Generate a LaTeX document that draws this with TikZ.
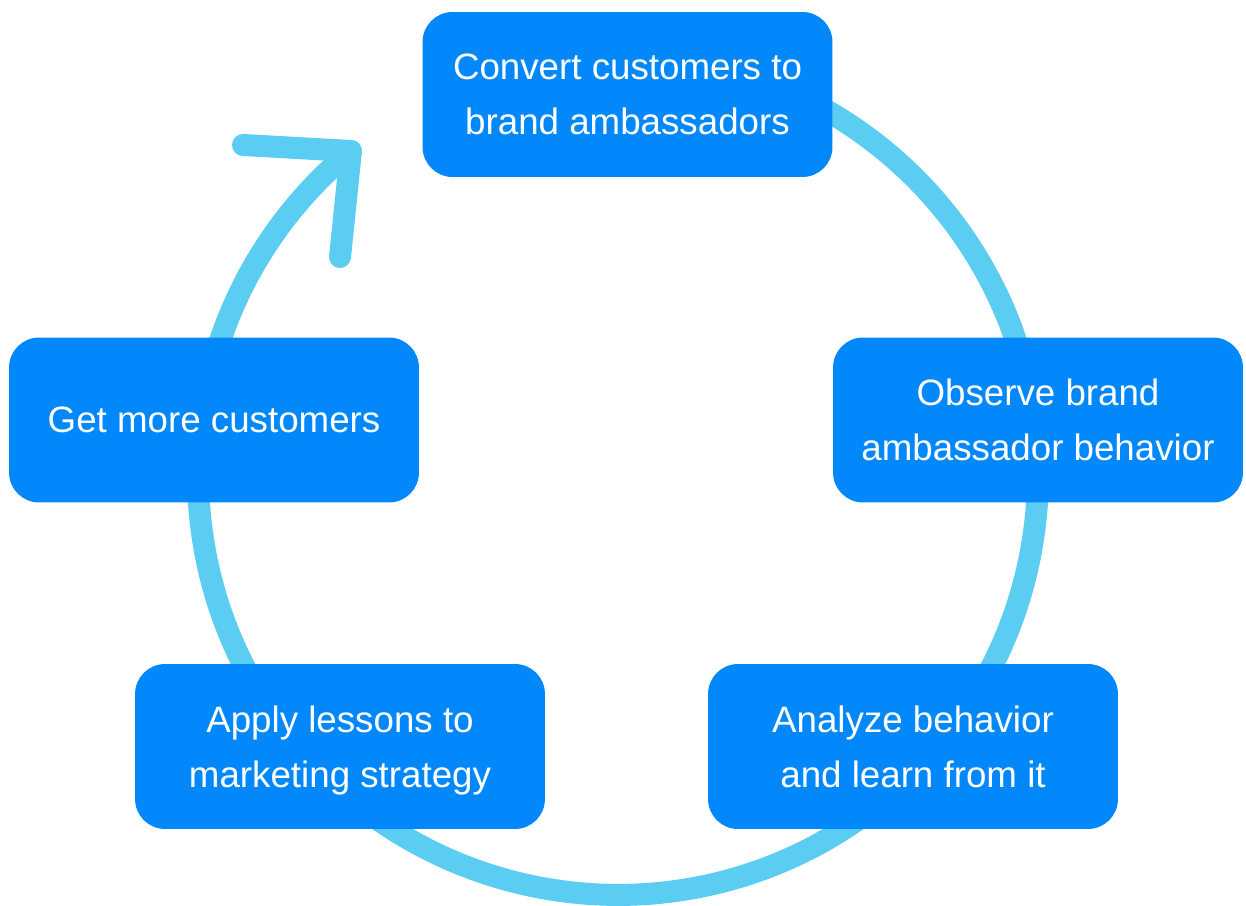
\documentclass[tikz,border=0pt]{standalone}
\usepackage{fontspec}
\setmainfont{Liberation Sans}
\usepackage{xcolor}
\usepackage{tikz}

\definecolor{boxblue}{HTML}{0388FC}
\definecolor{ringblue}{HTML}{5BCDF2}

\tikzset{
  stagebox/.style={fill=boxblue, text=white, rounded corners=0.6cm,
    minimum width=8.2cm, minimum height=3.3cm, inner sep=0pt, align=center,
    font=\fontsize{20.9}{31.3}\selectfont, text depth=0pt},
  ring/.style={draw=ringblue, line width=0.44cm, line cap=round, line join=round}
}

\begin{document}
\begin{tikzpicture}[x=0.02cm, y=-0.02cm]
                            \useasboundingbox (0,0) rectangle (1246,905);
                            \coordinate (hub) at (618,475);
                            \coordinate (armA) at (243,145);
                            \coordinate (armB) at (340,257);
                            \draw [ring] (hub) ++(129.5:8.4cm) coordinate (tip)
                              arc [start angle=129.5, end angle=440, radius=8.4cm];
                            \draw [ring] (armA) -- (tip) -- (armB);
                            \node (convert) [stagebox] at (627.5,94.5) {Convert customers to\\brand ambassadors};
                            \node (observe) [stagebox] at (1038,420) {Observe brand\\ambassador behavior};
                            \node (analyze) [stagebox] at (913,746.5) {Analyze behavior\\and learn from it};
                            \node (apply) [stagebox] at (340,746.5) {Apply lessons to\\marketing strategy};
                            \node (getmore) [stagebox] at (214,420) {Get more customers};
                        \end{tikzpicture}
\end{document}
